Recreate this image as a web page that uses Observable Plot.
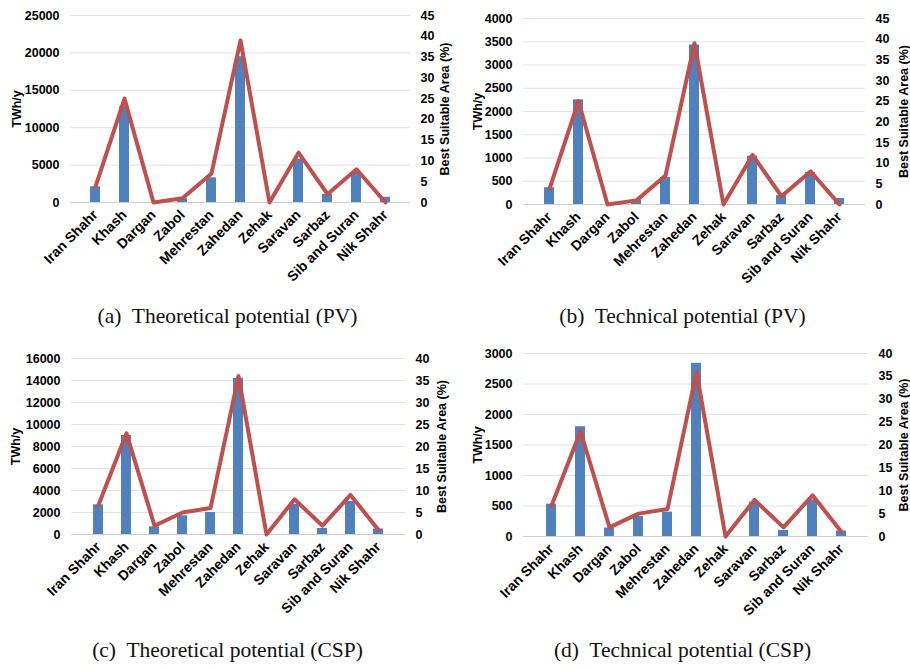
<!DOCTYPE html>
<html>
<head>
<meta charset="utf-8">
<script src="https://cdn.jsdelivr.net/npm/d3@7"></script>
<script src="https://cdn.jsdelivr.net/npm/@observablehq/plot@0.6"></script>
<style>
  html, body { margin: 0; padding: 0; background: #fff; }
  #root { position: relative; width: 910px; height: 669px; overflow: hidden; background: #fff; }
  .panel { position: absolute; }
  .caption { position: absolute; width: 455px; text-align: center; font-family: "Liberation Serif", "DejaVu Serif", serif; font-size: 21.5px; color: #111; white-space: pre; }
</style>
</head>
<body>
<div id="root"></div>
<script>
const cities = ["Iran Shahr", "Khash", "Dargan", "Zabol", "Mehrestan", "Zahedan", "Zehak", "Saravan", "Sarbaz", "Sib and Suran", "Nik Shahr"];
const pvTheoretical = [2100, 12800, 0, 500, 3300, 19500, 0, 5800, 1100, 4000, 700];
const pvTechnical = [360, 2250, 0, 90, 580, 3430, 0, 1040, 190, 690, 130];
const cspTheoretical = [2700, 9000, 700, 1700, 2000, 14200, 0, 2750, 550, 3000, 500];
const cspTechnical = [530, 1800, 140, 330, 400, 2840, 0, 560, 100, 600, 90];
const pvArea = [3.8, 25, 0, 1, 7, 39, 0, 12, 2, 8, 0];
const cspArea = [6.7, 23, 2, 5, 6, 36, 0, 8, 2, 9, 1];
const captions = ["(a)  Theoretical potential (PV)", "(b)  Technical potential (PV)", "(c)  Theoretical potential (CSP)", "(d)  Technical potential (CSP)"];
const leftTitle = "TWh/y";
const rightTitle = "Best Suitable Area (%)";

const panels = [
  {values: pvTheoretical, area: pvArea, yMax: 25000, yStep: 5000, rMax: 45, left: 0, top: 0,
   m: {l: 70, r: 45, t: 15, b: 98}, ldx: -54, rdx: 34, cap: captions[0], capTop: 304},
  {values: pvTechnical, area: pvArea, yMax: 4000, yStep: 500, rMax: 45, left: 455, top: 0,
   m: {l: 68, r: 45, t: 18, b: 96}, ldx: -46, rdx: 38, cap: captions[1], capTop: 304},
  {values: cspTheoretical, area: cspArea, yMax: 16000, yStep: 2000, rMax: 40, left: 0, top: 335,
   m: {l: 71, r: 50, t: 23, b: 101}, ldx: -56, rdx: 36, cap: captions[2], capTop: 638},
  {values: cspTechnical, area: cspArea, yMax: 3000, yStep: 500, rMax: 40, left: 455, top: 335,
   m: {l: 68, r: 42, t: 18, b: 99}, ldx: -46, rdx: 35, cap: captions[3], capTop: 638}
];

const root = document.getElementById("root");
for (const p of panels) {
  const k = p.yMax / p.rMax;
  const data = cities.map((c, i) => ({city: c, v: p.values[i], a: p.area[i] * k}));
  const chart = Plot.plot({
    width: 455, height: 300,
    marginLeft: p.m.l, marginRight: p.m.r, marginTop: p.m.t, marginBottom: p.m.b,
    style: {fontFamily: "'Liberation Sans', Arial, sans-serif", fontWeight: "bold", color: "#000", background: "transparent"},
    x: {domain: cities, padding: 0.66, label: null},
    y: {domain: [0, p.yMax], label: null},
    marks: [
      Plot.ruleY(d3.range(p.yStep, p.yMax + 1, p.yStep), {stroke: "#e4e4e4", strokeWidth: 1}),
      Plot.barY(data, {x: "city", y: "v", fill: "#4F81BD"}),
      Plot.ruleY([0], {stroke: "#d0d0d0", strokeWidth: 1}),
      Plot.line(data, {x: "city", y: "a", stroke: "#C0504D", strokeWidth: 4, strokeLinejoin: "round", strokeLinecap: "round"}),
      Plot.axisY(d3.range(0, p.yMax + 1, p.yStep), {anchor: "left", tickSize: 0, tickPadding: 11, tickFormat: d => String(d), fontSize: 12.5, fontWeight: "bold", label: null}),
      Plot.axisY(d3.range(0, p.rMax + 1, 5).map(v => v * k), {anchor: "right", tickSize: 0, tickPadding: 10, tickFormat: v => String(Math.round(v / k)), fontSize: 12.5, fontWeight: "bold", label: null}),
      Plot.axisX({tickRotate: -45, tickSize: 0, tickPadding: 10, label: null, fontSize: 14, fontWeight: "bold"}),
      Plot.text([leftTitle], {frameAnchor: "left", textAnchor: "middle", dx: p.ldx, rotate: -90, fontSize: 12.5, fontWeight: "bold", fill: "#000"}),
      Plot.text([rightTitle], {frameAnchor: "right", textAnchor: "middle", dx: p.rdx, rotate: -90, fontSize: 12.5, fontWeight: "bold", fill: "#000"})
    ]
  });
  const wrap = document.createElement("div");
  wrap.className = "panel";
  wrap.style.left = p.left + "px";
  wrap.style.top = p.top + "px";
  wrap.appendChild(chart);
  root.appendChild(wrap);
  const cap = document.createElement("div");
  cap.className = "caption";
  cap.style.left = p.left + "px";
  cap.style.top = p.capTop + "px";
  cap.textContent = p.cap;
  root.appendChild(cap);
}
</script>
</body>
</html>
